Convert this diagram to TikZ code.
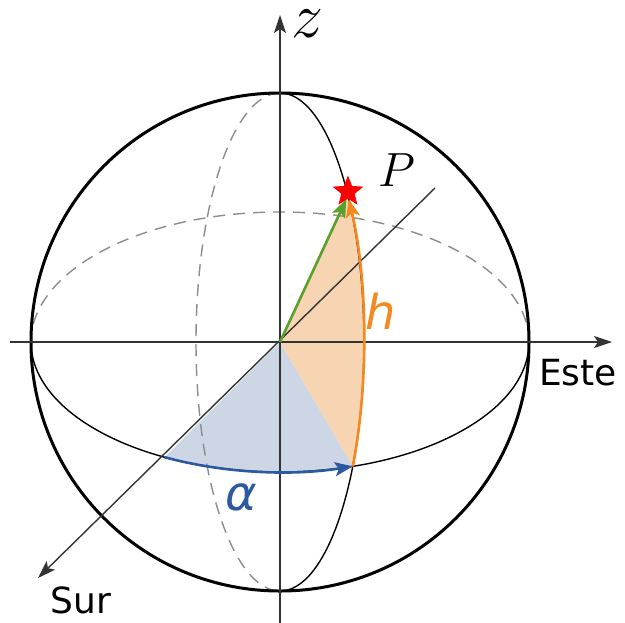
\RequirePackage{fix-cm}
\documentclass[tikz,border=0pt]{standalone}
\usepackage{fontspec}
\usetikzlibrary{arrows.meta,shapes.geometric}
\newfontfamily\dejavu{DejaVu Sans}
\definecolor{hcol}{HTML}{F5891F}
\definecolor{hfill}{HTML}{F8D5B2}
\definecolor{acol}{HTML}{2C5AA0}
\definecolor{afill}{HTML}{CDD6E4}
\definecolor{pcol}{HTML}{5AA02C}
\tikzset{
  axis/.style={draw=black!80,line width=0.7pt,-{Stealth[length=9pt,width=6pt,inset=2pt]}},
  front/.style={draw=black,line width=0.7pt},
  back/.style={draw=black!45,line width=0.7pt,dash pattern=on 6pt off 4pt},
  colarr/.style={line width=1.3pt,-{Stealth[length=9pt,width=7pt,inset=2pt]}},
  lbl/.style={inner sep=0pt,font=\dejavu\fontsize{18}{20}\selectfont},
  glbl/.style={inner sep=0pt,font=\dejavu\itshape\fontsize{24}{26}\selectfont},
  starp/.style={star,star points=5,star point ratio=2.3,fill=red,draw=red,minimum size=15pt,inner sep=0pt}
}

\begin{document}
\begin{tikzpicture}[x=0.5pt,y=0.5pt]
\useasboundingbox (-280,-280) rectangle (345,342);
% points on the sphere
\coordinate (O) at (0,0);
\coordinate (S) at (242.4:249 and 130);
\coordinate (E) at (-30:84 and 249);
\coordinate (P) at (36:84 and 249);
% shaded angles
\fill[afill] (O) -- (S) arc[start angle=242.4,end angle=287,x radius=249,y radius=130] -- cycle;
\fill[hfill] (O) -- (E) arc[start angle=-30,end angle=36,x radius=84,y radius=249] -- cycle;
% sphere, equator and meridian
\draw[back] (0:249 and 130) arc[start angle=0,end angle=180,x radius=249,y radius=130];
\draw[front] (180:249 and 130) arc[start angle=180,end angle=360,x radius=249,y radius=130];
\draw[back] (90:84 and 249) arc[start angle=90,end angle=270,x radius=84,y radius=249];
\draw[front] (-90:84 and 249) arc[start angle=-90,end angle=90,x radius=84,y radius=249];
\draw[line width=1.5pt] (O) circle[radius=249];
% axes
\coordinate (xw) at (-270,0);
\coordinate (xe) at (332,0);
\coordinate (zb) at (0,-282);
\coordinate (zt) at (0,327);
\coordinate (sn) at (155,154);
\coordinate (ss) at (-242,-236);
\draw[axis] (xw) -- (xe);
\draw[axis] (zb) -- (zt);
\draw[axis] (sn) -- (ss);
% alpha, h and the star
\draw[colarr,acol] (S) arc[start angle=242.4,end angle=287,x radius=249,y radius=130];
\draw[colarr,hcol] (E) arc[start angle=-30,end angle=35,x radius=84,y radius=249];
\draw[colarr,pcol,shorten >=2pt] (O) -- (P);
\node[starp] (star) at ([yshift=2]P) {};
% labels
\node[inner sep=0pt,font=\fontsize{32}{34}\selectfont] (zl) at (27,318) {$z$};
\node[inner sep=0pt,font=\fontsize{24}{26}\selectfont] (pl) at (117,172) {$P$};
\node[glbl,text=hcol] (hl) at (101,31) {h};
\node[glbl,text=acol] (al) at (-39,-155) {α};
\node[lbl] (sur) at (-199,-258) {Sur};
\node[lbl] (este) at (298,-31) {Este};
\end{tikzpicture}
\end{document}
